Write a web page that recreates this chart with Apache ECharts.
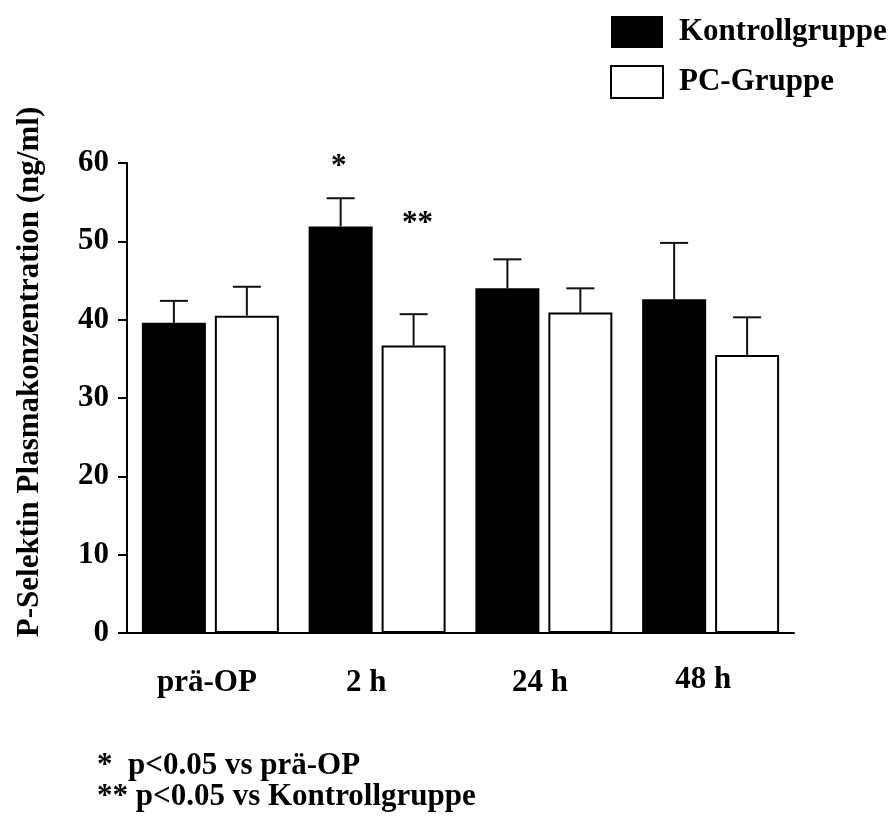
<!DOCTYPE html>
<html>
<head>
<meta charset="utf-8">
<script src="https://cdn.jsdelivr.net/npm/echarts@6/dist/echarts.min.js"></script>
<style>
html,body{margin:0;padding:0;background:#fff;}
#chart{width:894px;height:821px;}
</style>
</head>
<body>
<div id="chart"></div>
<script>
const categories = ['prä-OP', '2 h', '24 h', '48 h'];
const kontrollMean = [39.6, 51.9, 44.0, 42.6];
const kontrollErr = [2.8, 3.6, 3.7, 7.2];
const pcMean = [40.5, 36.7, 40.9, 35.5];
const pcErr = [3.7, 4.0, 3.1, 4.8];
const kontrollSig = ['', '*', '', ''];
const pcSig = ['', '**', '', ''];
const yMin = 0, yMax = 60, yStep = 10;
const footnotes = ['*  p<0.05 vs prä-OP', '** p<0.05 vs Kontrollgruppe'];
const yAxisTitle = 'P-Selektin Plasmakonzentration (ng/ml)';

const FONT = "'Liberation Serif', 'Times New Roman', serif";
const FS = 31;
const BAR_W = 64;
const BAR_GAP = 0.14;
const HALF = BAR_W * (1 + BAR_GAP) / 2;

const labelPad = [[0, 7, 0, 0], [0, 22, 0, 0], [0, 8, 0, 0], [0, 15, 0, 0]];
const labelTop = [3, 3, 3, 0];

const chart = echarts.init(document.getElementById('chart'), null, {renderer: 'canvas'});

function sigLabel(sig, distance, dx) {
  return {show: true, position: 'top', formatter: sig, distance: distance, offset: [dx, 0],
    color: '#000', fontFamily: FONT, fontWeight: 'bold', fontSize: FS};
}

const kData = kontrollMean.map((v, i) => kontrollSig[i] ? {value: v, label: sigLabel(kontrollSig[i], 44, -2)} : v);
const pData = pcMean.map((v, i) => pcSig[i] ? {value: v, label: sigLabel(pcSig[i], 106, 4)} : v);

function errSeries(means, errs, side) {
  return {
    type: 'custom',
    z: 5,
    silent: true,
    data: means.map((m, i) => [i, m, errs[i]]),
    encode: {x: 0, y: 1},
    renderItem: function (params, api) {
      const base = api.coord([api.value(0), api.value(1)]);
      const top = api.coord([api.value(0), api.value(1) + api.value(2)]);
      const x = base[0] + side * HALF;
      const capHalf = 14;
      const st = {stroke: '#111', lineWidth: 2};
      return {
        type: 'group',
        children: [
          {type: 'line', shape: {x1: x, y1: base[1], x2: x, y2: top[1]}, style: st},
          {type: 'line', shape: {x1: x - capHalf, y1: top[1], x2: x + capHalf, y2: top[1]}, style: st}
        ]
      };
    }
  };
}

const option = {
  backgroundColor: '#fff',
  animation: false,
  textStyle: {fontFamily: FONT},
  grid: {left: 127, right: 100, top: 163, bottom: 188, containLabel: false},
  legend: {
    data: ['Kontrollgruppe', 'PC-Gruppe'],
    orient: 'vertical',
    left: 605,
    top: 11,
    itemWidth: 52,
    itemHeight: 32,
    itemGap: 17,
    icon: 'rect',
    selectedMode: false,
    textStyle: {color: '#000', fontFamily: FONT, fontWeight: 'bold', fontSize: FS, padding: [0, 0, 2, 11]}
  },
  xAxis: {
    type: 'category',
    data: categories.map((c, i) => ({value: c, textStyle: {padding: [labelTop[i], labelPad[i][1], labelPad[i][2], 0]}})),
    axisLine: {lineStyle: {color: '#000', width: 2}},
    axisTick: {show: false},
    axisLabel: {color: '#000', fontFamily: FONT, fontWeight: 'bold', fontSize: FS, margin: 31, interval: 0}
  },
  yAxis: {
    type: 'value',
    min: yMin, max: yMax, interval: yStep,
    axisLine: {show: true, lineStyle: {color: '#000', width: 2}},
    axisTick: {show: true, length: 9, lineStyle: {color: '#000', width: 2}},
    splitLine: {show: false},
    axisLabel: {color: '#000', fontFamily: FONT, fontWeight: 'bold', fontSize: FS, margin: 18}
  },
  graphic: [
    {type: 'text', x: 30, y: 372, rotation: Math.PI / 2,
      style: {text: yAxisTitle, fill: '#000', font: 'bold ' + FS + 'px ' + FONT, textAlign: 'center', textVerticalAlign: 'middle'}},
    {type: 'text', x: 97, y: 766,
      style: {text: footnotes[0], fill: '#000', font: 'bold ' + FS + 'px ' + FONT, textAlign: 'left', textVerticalAlign: 'middle'}},
    {type: 'text', x: 97, y: 797,
      style: {text: footnotes[1], fill: '#000', font: 'bold ' + FS + 'px ' + FONT, textAlign: 'left', textVerticalAlign: 'middle'}}
  ],
  series: [
    {
      name: 'Kontrollgruppe', type: 'bar', data: kData,
      barWidth: BAR_W, barGap: (BAR_GAP * 100) + '%',
      itemStyle: {color: '#000', borderColor: '#000', borderWidth: 0}
    },
    {
      name: 'PC-Gruppe', type: 'bar', data: pData,
      barWidth: BAR_W, barGap: (BAR_GAP * 100) + '%',
      itemStyle: {color: '#fff', borderColor: '#000', borderWidth: 2}
    },
    errSeries(kontrollMean, kontrollErr, -1),
    errSeries(pcMean, pcErr, 1)
  ]
};
chart.setOption(option);
</script>
</body>
</html>
